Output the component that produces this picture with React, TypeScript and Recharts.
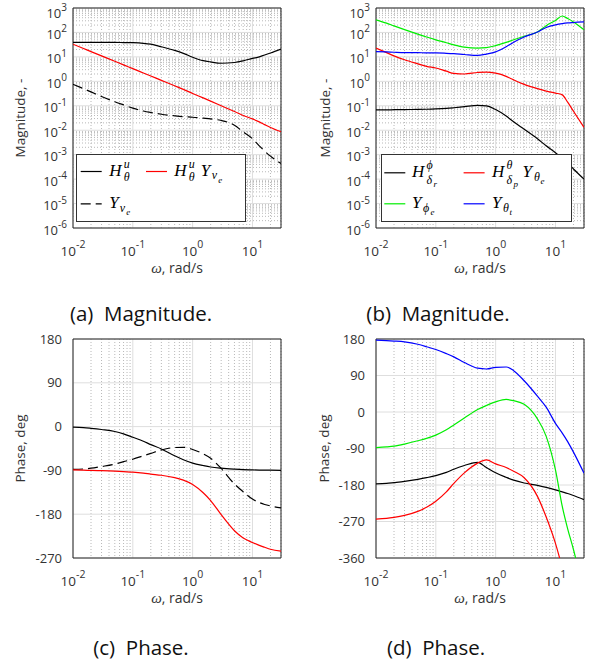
import React from 'react';
import { LineChart, Line, XAxis, YAxis, CartesianGrid, ReferenceArea, Legend } from 'recharts';

const SANS = '"Open Sans", "Noto Sans", sans-serif';
const SERIF = '"Liberation Serif", "DejaVu Serif", serif';
const TICK_FILL = '#333';

// frequency samples (rad/s)
const omega = [0.01, 0.015, 0.02, 0.03, 0.05, 0.07, 0.1, 0.15, 0.2, 0.3, 0.5, 0.7, 1, 1.5, 2, 3, 5, 7, 10, 13, 16, 20, 30];

// (a) magnitude
const magA_Hu = [39, 39, 39, 39, 39, 38.5, 38, 36, 33, 26, 18.5, 14, 9.7, 7.0, 6.2, 5.5, 5.9, 6.9, 8.7, 10, 12, 14.5, 21];
const magA_HuYve = [33, 22, 16.5, 11, 6.6, 4.7, 3.3, 2.2, 1.65, 1.1, 0.66, 0.47, 0.32, 0.21, 0.155, 0.1, 0.058, 0.04, 0.029, 0.022, 0.017, 0.013, 0.0087];
const magA_Yve = [0.76, 0.5, 0.37, 0.24, 0.146, 0.109, 0.08, 0.061, 0.053, 0.045, 0.039, 0.036, 0.034, 0.031, 0.029, 0.025, 0.016, 0.0085, 0.0045, 0.0023, 0.0014, 0.00087, 0.00044];

// (b) magnitude
const magB_H = [0.068, 0.068, 0.069, 0.07, 0.071, 0.072, 0.074, 0.078, 0.083, 0.092, 0.104, 0.1, 0.07, 0.038, 0.022, 0.011, 0.0045, 0.0023, 0.0012, 0.0007, 0.00045, 0.00026, 0.0001];
const magB_HY = [23, 15, 11, 7.6, 5.2, 4.1, 3.5, 2.6, 2.1, 2.0, 2.3, 2.4, 2.15, 1.6, 1.15, 0.75, 0.5, 0.4, 0.33, 0.28, 0.14, 0.06, 0.013];
const magB_Yphi = [330, 240, 185, 130, 85, 65, 50, 38, 31, 25, 23, 24, 29, 39, 50, 70, 105, 190, 310, 470, 370, 270, 129];
const magB_Yth = [16.5, 16, 15.5, 15, 15, 14.5, 14.5, 14, 13.5, 12.5, 11.5, 13, 16, 26, 40, 65, 105, 160, 205, 230, 245, 255, 270];

// (c) phase
const phC_H = [-1, -2, -3.5, -6, -10, -15, -22, -30, -37, -46, -60, -68, -75, -80, -83, -85.5, -87.5, -88.5, -89, -89.3, -89.5, -89.6, -89.8];
const phC_HY = [-89, -89.5, -90, -90.5, -91.5, -92.5, -93.5, -95.5, -97.5, -100, -105, -110, -119, -136, -152, -181, -214, -229, -238, -244, -248, -252, -256];
const phC_Y = [-88, -87, -85.5, -82, -77, -72, -67, -60, -55, -48, -43, -42.5, -47, -56, -65, -86, -118, -134, -149, -156, -160, -163, -167];

// (d) phase
const phD_H = [-177, -176, -174, -171, -166, -162, -157, -149, -141, -132, -124, -137, -150, -161, -168, -175, -181, -186, -192, -197, -201, -206, -216];
const phD_HY = [-264, -262.5, -260, -255, -245, -235, -220, -197, -176, -150, -126, -118, -128, -137, -146, -162, -208, -259, -324, -385, -440, -500, -600];
const phD_Yphi = [-88, -86, -84, -79, -71, -65, -57, -44, -32, -15, 6, 16, 25, 31, 28, 19, -17, -60, -143, -233, -288, -339, -450];
const phD_Yth = [177, 176, 175, 173, 167, 161, 154, 144, 136, 122, 108, 106, 110, 111, 102, 77, 39, 12, -28, -52, -73, -99, -151];

// ticks
const xMajor = [0.01, 0.1, 1, 10];
const xMajorExp = ['-2', '-1', '0', '1'];
const xMinor = [0.02, 0.03, 0.04, 0.05, 0.06, 0.07, 0.08, 0.09, 0.2, 0.3, 0.4, 0.5, 0.6, 0.7, 0.8, 0.9, 2, 3, 4, 5, 6, 7, 8, 9, 20, 30];
const magMajor = [1e-6, 1e-5, 1e-4, 1e-3, 1e-2, 1e-1, 1, 10, 100, 1000];
const magMajorExp = ['-6', '-5', '-4', '-3', '-2', '-1', '0', '1', '2', '3'];
const magMinorMultipliers = [2, 3, 4, 5, 6, 7, 8, 9];
const magMinor = magMajor.slice(0, -1).flatMap((d) => magMinorMultipliers.map((m) => d * m));
const phaseTicksC = [-270, -180, -90, 0, 90, 180];
const phaseLabelsC = ['-270', '-180', '-90', '0', '90', '180'];
const phaseTicksD = [-360, -270, -180, -90, 0, 90, 180];
const phaseLabelsD = ['-360', '-270', '-180', '-90', '0', '90', '180'];

const tableA = omega.map((w, i) => ({ w, hu: magA_Hu[i], huy: magA_HuYve[i], yve: magA_Yve[i] }));
const tableB = omega.map((w, i) => ({ w, h: magB_H[i], hy: magB_HY[i], yphi: magB_Yphi[i], yth: magB_Yth[i] }));
const tableC = omega.map((w, i) => ({ w, hu: phC_H[i], huy: phC_HY[i], yve: phC_Y[i] }));
const tableD = omega.map((w, i) => ({ w, h: phD_H[i], hy: phD_HY[i], yphi: phD_Yphi[i], yth: phD_Yth[i] }));

const findIdx = (arr: number[], v: number) => arr.findIndex((t) => Math.abs(t - v) <= Math.abs(t) * 1e-6 + 1e-12);

function XPowTick(props: any) {
  const { x, y, payload } = props;
  const i = findIdx(xMajor, payload.value);
  return (
    <text x={x} y={y + 27.5} textAnchor="middle" fontFamily={SANS} fontSize={13.5} fill={TICK_FILL}>
      10<tspan dy={-8} fontSize={10.5}>{xMajorExp[i]}</tspan>
    </text>
  );
}

function YPowTick(props: any) {
  const { x, y, payload } = props;
  const i = findIdx(magMajor, payload.value);
  const extra = i === magMajor.length - 1 ? 3 : 0;
  return (
    <text x={x - 6} y={y + 6.5 + extra} textAnchor="end" fontFamily={SANS} fontSize={13} fill={TICK_FILL}>
      10<tspan dy={-6.5} fontSize={10}>{magMajorExp[i]}</tspan>
    </text>
  );
}

const makePhaseTick = (ticks: number[], labels: string[]) => (props: any) => {
  const { x, y, payload } = props;
  const i = findIdx(ticks, payload.value);
  return (
    <text x={x - 11} y={y + 4.5} textAnchor="end" fontFamily={SANS} fontSize={13} fill={TICK_FILL}>
      {labels[i]}
    </text>
  );
};
const PhaseTickC = makePhaseTick(phaseTicksC, phaseLabelsC);
const PhaseTickD = makePhaseTick(phaseTicksD, phaseLabelsD);

const xAxisLabel = (p: any) => {
  const vb = p.viewBox || {};
  return (
    <text x={vb.x + vb.width / 2} y={vb.y + 45} textAnchor="middle" fontFamily={SANS} fontSize={14} fill={TICK_FILL}>
      <tspan fontFamily={SERIF} fontStyle="italic" fontSize={15}>ω</tspan>, rad/s
    </text>
  );
};

const makeYLabel = (text: string, cx: number) => (p: any) => {
  const vb = p.viewBox || {};
  const cy = vb.y + vb.height / 2;
  return (
    <text x={cx + 4.5} y={cy} transform={`rotate(-90 ${cx + 4.5} ${cy})`} textAnchor="middle" fontFamily={SANS} fontSize={13.5} fill={TICK_FILL}>
      {text}
    </text>
  );
};

type Piece = { t: string; dx: number; dy: number; size: number };
type LegendItem = { x: number; y: number; color: string; dash?: string; textDx: number; pieces: Piece[] };

function MathLegend({ width, height, items }: { width: number; height: number; items: LegendItem[] }) {
  return (
    <svg width={width} height={height} style={{ display: 'block', overflow: 'visible' }}>
      <rect x={0.5} y={0.5} width={width - 1} height={height - 1} fill="#fff" stroke="#333" strokeWidth={1} />
      {items.map((it, i) => (
        <g key={i}>
          <line x1={it.x} x2={it.x + 21} y1={it.y - 4.5} y2={it.y - 4.5} stroke={it.color} strokeWidth={1.2} strokeDasharray={it.dash} />
          {it.pieces.map((p, j) => (
            <text key={j} x={it.x + it.textDx + p.dx} y={it.y + p.dy} fontFamily={SERIF} fontStyle="italic" fontSize={p.size} fill="#000">
              {p.t}
            </text>
          ))}
        </g>
      ))}
    </svg>
  );
}

const BIG = 17;
const SM = 12;
const XS = 9;

const legendA: LegendItem[] = [
  { x: 4.7, y: 22, color: '#000', textDx: 28.6, pieces: [
    { t: 'H', dx: 0, dy: 0, size: BIG }, { t: 'u', dx: 14.5, dy: -8, size: SM }, { t: 'θ', dx: 14.5, dy: 5, size: SM },
  ] },
  { x: 70, y: 22, color: '#ff0000', textDx: 28.3, pieces: [
    { t: 'H', dx: 0, dy: 0, size: BIG }, { t: 'u', dx: 14.5, dy: -8, size: SM }, { t: 'θ', dx: 14.5, dy: 5, size: SM },
    { t: 'Y', dx: 26.5, dy: 0, size: BIG }, { t: 'v', dx: 37.5, dy: 3.4, size: SM }, { t: 'e', dx: 44, dy: 6.7, size: XS },
  ] },
  { x: 4.7, y: 54.3, color: '#000', dash: '10 5', textDx: 28.6, pieces: [
    { t: 'Y', dx: 0, dy: 0, size: BIG }, { t: 'v', dx: 10.5, dy: 3.4, size: SM }, { t: 'e', dx: 17, dy: 6.7, size: XS },
  ] },
];

const legendB: LegendItem[] = [
  { x: 3.3, y: 23.3, color: '#000', textDx: 27.7, pieces: [
    { t: 'H', dx: 0, dy: 0, size: BIG }, { t: 'ϕ', dx: 14.5, dy: -8.5, size: SM }, { t: 'δ', dx: 14.5, dy: 6.7, size: SM }, { t: 'r', dx: 21.5, dy: 10, size: XS },
  ] },
  { x: 82.6, y: 23.3, color: '#ff0000', textDx: 28.4, pieces: [
    { t: 'H', dx: 0, dy: 0, size: BIG }, { t: 'θ', dx: 14.5, dy: -8.5, size: SM }, { t: 'δ', dx: 14.5, dy: 6.7, size: SM }, { t: 'p', dx: 21.5, dy: 10, size: XS },
    { t: 'Y', dx: 30.5, dy: 0, size: BIG }, { t: 'θ', dx: 42, dy: 3.7, size: SM }, { t: 'e', dx: 48.5, dy: 7, size: XS },
  ] },
  { x: 3.3, y: 54.3, color: '#00ee00', textDx: 27.7, pieces: [
    { t: 'Y', dx: 0, dy: 0, size: BIG }, { t: 'ϕ', dx: 11, dy: 3.7, size: SM }, { t: 'e', dx: 18.5, dy: 7, size: XS },
  ] },
  { x: 82.6, y: 54.3, color: '#0000ff', textDx: 28.4, pieces: [
    { t: 'Y', dx: 0, dy: 0, size: BIG }, { t: 'θ', dx: 11, dy: 3.7, size: SM }, { t: 't', dx: 17.5, dy: 7, size: XS },
  ] },
];

type SeriesDef = { key: string; color: string; dash?: string };

type PanelProps = {
  left: number;
  top: number;
  width: number;
  height: number;
  margin: { top: number; right: number; left: number; bottom: number };
  yAxisWidth: number;
  data: any[];
  series: SeriesDef[];
  log: boolean;
  yDomain: [number, number];
  yTicks: number[];
  yTick: any;
  yLabel: string;
  yLabelX: number;
  legend?: { items: LegendItem[]; left: number; top: number; width: number; height: number };
};

function Panel(p: PanelProps) {
  return (
    <div style={{ position: 'absolute', left: p.left, top: p.top, width: p.width, height: p.height }}>
      <LineChart width={p.width} height={p.height} data={p.data} margin={p.margin}>
        {p.log ? (
          <CartesianGrid stroke="#b8b8b8" strokeDasharray="1 2" verticalValues={xMinor} horizontalValues={magMinor} syncWithTicks />
        ) : (
          <CartesianGrid stroke="#b8b8b8" strokeDasharray="1 2" horizontal={false} verticalValues={xMinor} syncWithTicks />
        )}
        <CartesianGrid stroke="#dedede" verticalValues={xMajor} horizontalValues={p.yTicks} syncWithTicks />
        <XAxis
          dataKey="w"
          type="number"
          scale="log"
          domain={[0.01, 30]}
          allowDataOverflow
          ticks={xMajor}
          interval={0}
          tick={<XPowTick />}
          tickLine={false}
          axisLine={false}
          tickSize={0}
          tickMargin={0}
          height={62}
          label={xAxisLabel}
        />
        <YAxis
          type="number"
          scale={p.log ? 'log' : 'linear'}
          domain={p.yDomain}
          allowDataOverflow
          ticks={p.yTicks}
          interval={0}
          tick={p.yTick}
          tickLine={false}
          axisLine={false}
          tickSize={0}
          tickMargin={0}
          width={p.yAxisWidth}
          label={makeYLabel(p.yLabel, p.yLabelX)}
        />
        {p.series.map((s) => (
          <Line
            key={s.key}
            dataKey={s.key}
            type="monotone"
            stroke={s.color}
            strokeWidth={1.2}
            strokeDasharray={s.dash}
            dot={false}
            activeDot={false}
            isAnimationActive={false}
          />
        ))}
        <ReferenceArea
          x1={0.01}
          x2={30}
          y1={p.yDomain[0]}
          y2={p.yDomain[1]}
          fill="none"
          fillOpacity={0}
          stroke="#222"
          strokeWidth={1}
          ifOverflow="visible"
        />
        {p.legend && (
          <Legend
            layout="horizontal"
            verticalAlign="middle"
            align="center"
            wrapperStyle={{ left: p.legend.left, top: p.legend.top, width: p.legend.width, height: p.legend.height }}
            content={() => <MathLegend width={p.legend!.width} height={p.legend!.height} items={p.legend!.items} />}
          />
        )}
      </LineChart>
    </div>
  );
}

const seriesA: SeriesDef[] = [
  { key: 'yve', color: '#000', dash: '10 5' },
  { key: 'huy', color: '#ff0000' },
  { key: 'hu', color: '#000' },
];
const seriesB: SeriesDef[] = [
  { key: 'h', color: '#000' },
  { key: 'hy', color: '#ff0000' },
  { key: 'yphi', color: '#00ee00' },
  { key: 'yth', color: '#0000ff' },
];

const titleStyle = (cx: number, cy: number): React.CSSProperties => ({
  position: 'absolute',
  left: cx - 120,
  width: 240,
  top: cy - 13,
  height: 26,
  lineHeight: '26px',
  textAlign: 'center',
  fontFamily: SANS,
  fontSize: 20.5,
  color: '#111',
  whiteSpace: 'pre',
});

export default function App() {
  return (
    <div style={{ position: 'absolute', left: 0, top: 0, width: 589, height: 664, background: '#fff', overflow: 'hidden' }}>
      <Panel
        left={0} top={0} width={295} height={290}
        margin={{ top: 8, right: 14, left: 0, bottom: 0 }}
        yAxisWidth={73}
        data={tableA}
        series={seriesA}
        log
        yDomain={[1e-6, 1e3]}
        yTicks={magMajor}
        yTick={<YPowTick />}
        yLabel="Magnitude, -"
        yLabelX={20.5}
        legend={{ items: legendA, left: 76, top: 154, width: 170, height: 68 }}
      />
      <Panel
        left={295} top={0} width={294} height={290}
        margin={{ top: 8, right: 5, left: 0, bottom: 0 }}
        yAxisWidth={81}
        data={tableB}
        series={seriesB}
        log
        yDomain={[1e-6, 1e3]}
        yTicks={magMajor}
        yTick={<YPowTick />}
        yLabel="Magnitude, -"
        yLabelX={30.5}
        legend={{ items: legendB, left: 86, top: 154, width: 191, height: 68 }}
      />
      <Panel
        left={0} top={330} width={295} height={290}
        margin={{ top: 9, right: 14, left: 0, bottom: 0 }}
        yAxisWidth={73}
        data={tableC}
        series={seriesA}
        log={false}
        yDomain={[-270, 180]}
        yTicks={phaseTicksC}
        yTick={<PhaseTickC />}
        yLabel="Phase, deg"
        yLabelX={20.5}
      />
      <Panel
        left={295} top={330} width={294} height={290}
        margin={{ top: 9, right: 5, left: 0, bottom: 0 }}
        yAxisWidth={81}
        data={tableD}
        series={seriesB}
        log={false}
        yDomain={[-360, 180]}
        yTicks={phaseTicksD}
        yTick={<PhaseTickD />}
        yLabel="Phase, deg"
        yLabelX={29.5}
      />
      <div style={titleStyle(141, 313)}>(a)  Magnitude.</div>
      <div style={titleStyle(438, 313)}>(b)  Magnitude.</div>
      <div style={titleStyle(141, 647)}>(c)  Phase.</div>
      <div style={titleStyle(436, 647)}>(d)  Phase.</div>
    </div>
  );
}
